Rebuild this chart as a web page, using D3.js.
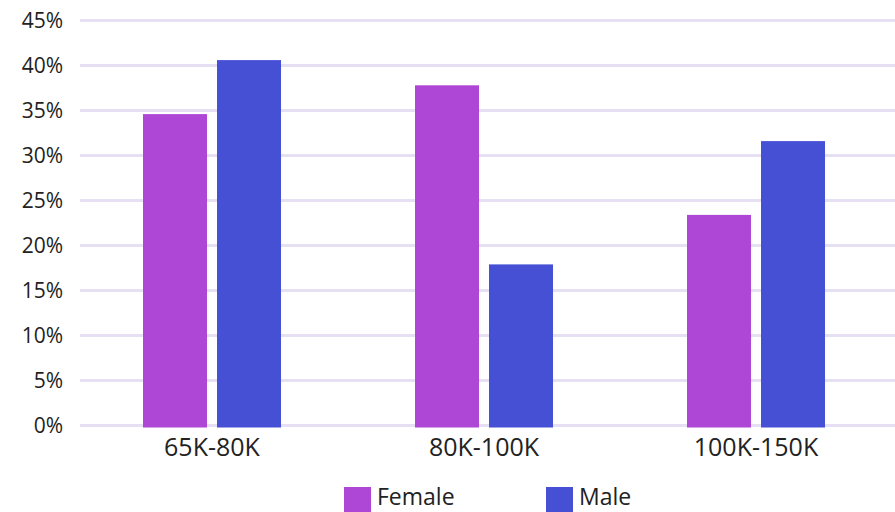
<!DOCTYPE html>
<html><head><meta charset="utf-8">
<script src="https://cdn.jsdelivr.net/npm/d3@7"></script>
<style>
html,body{margin:0;padding:0;background:#fff;}
svg{display:block;}
text{font-family:"Open Sans","Noto Sans",sans-serif;fill:#222;}
</style></head>
<body><svg id="c" width="895" height="512"></svg>
<script>
const categories = ["65K-80K", "80K-100K", "100K-150K"];
const seriesNames = ["Female", "Male"];
const femaleValues = [34.6, 37.8, 23.4];
const maleValues = [40.6, 17.9, 31.6];
const yTicks = [0, 5, 10, 15, 20, 25, 30, 35, 40, 45];
const colors = ["#AF47D6", "#4650D5"];

const svg = d3.select("#c");
const x = d3.scaleBand().domain(categories).range([76, 892]).padding(0);
const xs = d3.scaleBand().domain(seriesNames).range([67, 205]).paddingInner(10/74);
const y = d3.scaleLinear().domain([0, 45]).range([425.5, 20.5]);

// gridlines
svg.append("g").selectAll("line").data(yTicks).join("line")
  .attr("x1", 80).attr("x2", 895)
  .attr("y1", d => y(d)).attr("y2", d => y(d))
  .attr("stroke", "#E7DFF4").attr("stroke-width", 3);

// y labels
svg.append("g").selectAll("text").data(yTicks).join("text")
  .attr("x", 63).attr("y", d => y(d)).attr("dy", "0.36em")
  .attr("text-anchor", "end").attr("font-size", 21)
  .text(d => d + "%");

const data = categories.map((c, i) => ({cat: c, vals: [femaleValues[i], maleValues[i]]}));
const groups = svg.append("g").selectAll("g").data(data).join("g")
  .attr("transform", d => `translate(${x(d.cat)},0)`);
groups.selectAll("rect").data(d => d.vals.map((v, j) => ({s: seriesNames[j], v, j})))
  .join("rect")
  .attr("x", d => xs(d.s)).attr("width", xs.bandwidth())
  .attr("y", d => y(d.v)).attr("height", d => y(0) + 2 - y(d.v))
  .attr("fill", d => colors[d.j]);

// x labels
svg.append("g").selectAll("text").data(categories).join("text")
  .attr("x", d => x(d) + x.bandwidth()/2).attr("y", 456)
  .attr("text-anchor", "middle").attr("font-size", 25)
  .text(d => d);

// legend
const legX = [344, 546];
const leg = svg.append("g").selectAll("g").data(seriesNames).join("g")
  .attr("transform", (d, i) => `translate(${legX[i]},487)`);
leg.append("rect").attr("width", 27).attr("height", 27).attr("fill", (d, i) => colors[i]);
leg.append("text").attr("x", 33).attr("y", 18).attr("font-size", 23).text(d => d);
</script></body></html>
